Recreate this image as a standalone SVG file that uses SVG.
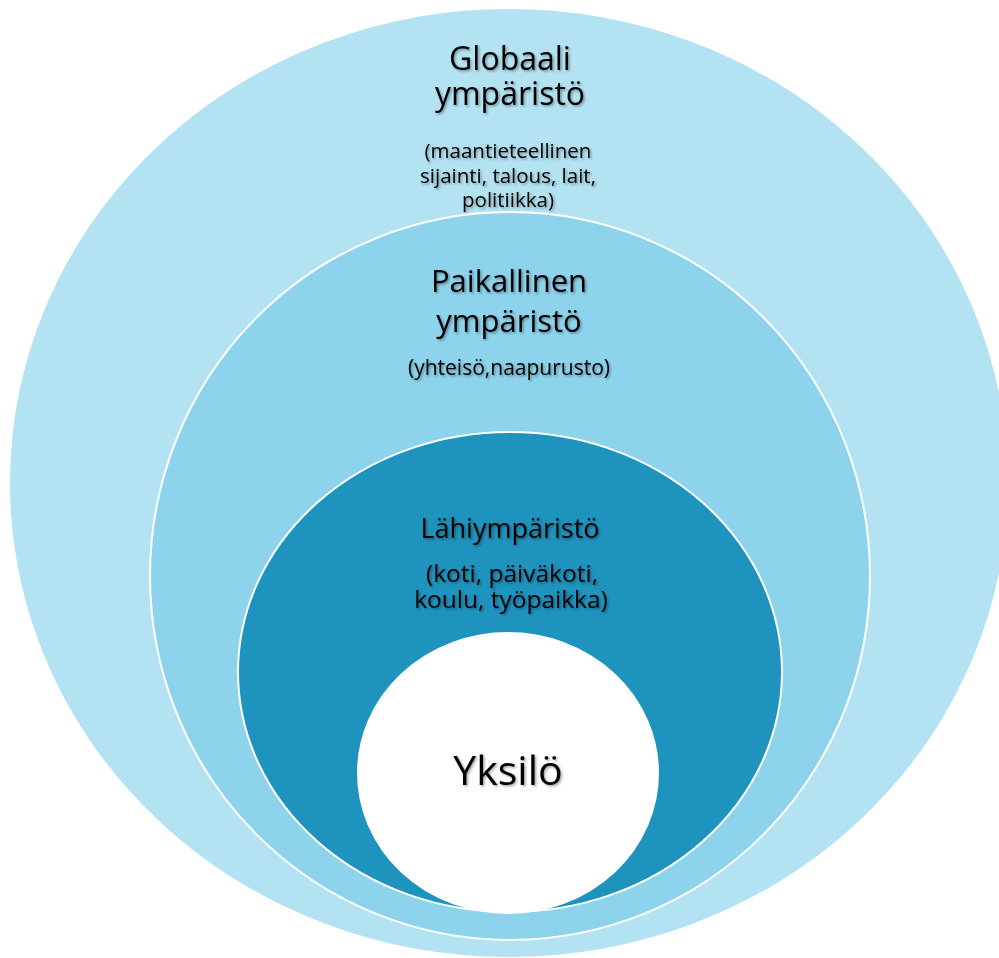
<svg xmlns="http://www.w3.org/2000/svg" width="999" height="958" viewBox="0 0 999 958">
  <defs>
    <filter id="shadow" x="-10%" y="-20%" width="120%" height="150%">
      <feDropShadow dx="1.5" dy="1.5" stdDeviation="1.2" flood-color="#000" flood-opacity="0.35"/>
    </filter>
    <style>
      .ring { stroke: #ffffff; stroke-width: 2; }
      .lbl { font-family: "Open Sans", "Liberation Sans", sans-serif; fill: #000000; text-anchor: middle; filter: url(#shadow); }
    </style>
  </defs>
  <rect width="999" height="958" fill="#ffffff"/>
  <g id="globaali">
    <ellipse class="ring" cx="509" cy="483" rx="500" ry="475" fill="#B3E3F2" stroke="none"/>
    <text class="lbl" x="510" y="70" font-size="32">Globaali</text>
    <text class="lbl" x="510" y="105" font-size="32">ympäristö</text>
    <text class="lbl" x="508" y="158" font-size="20.5">(maantieteellinen</text>
    <text class="lbl" x="508" y="183" font-size="20.5">sijainti, talous, lait,</text>
    <text class="lbl" x="508" y="207" font-size="20.5">politiikka)</text>
  </g>
  <g id="paikallinen">
    <ellipse class="ring" cx="510" cy="576" rx="360" ry="364" fill="#8DD3EC"/>
    <text class="lbl" x="509" y="292" font-size="31">Paikallinen</text>
    <text class="lbl" x="509" y="332" font-size="31">ympäristö</text>
    <text class="lbl" x="509" y="375" font-size="21">(yhteisö,naapurusto)</text>
  </g>
  <g id="lahiymparisto">
    <ellipse class="ring" cx="510" cy="672" rx="272" ry="240" fill="#1E93BE"/>
    <text class="lbl" x="510" y="538" font-size="27">Lähiympäristö</text>
    <text class="lbl" x="512" y="582" font-size="24.5">(koti, päiväkoti,</text>
    <text class="lbl" x="511" y="608" font-size="24.5">koulu, työpaikka)</text>
  </g>
  <g id="yksilo">
    <ellipse class="ring" cx="508" cy="773" rx="150" ry="140" fill="#ffffff"/>
    <text class="lbl" x="508" y="785" font-size="41">Yksilö</text>
  </g>
  <g id="connectors"/>
</svg>
